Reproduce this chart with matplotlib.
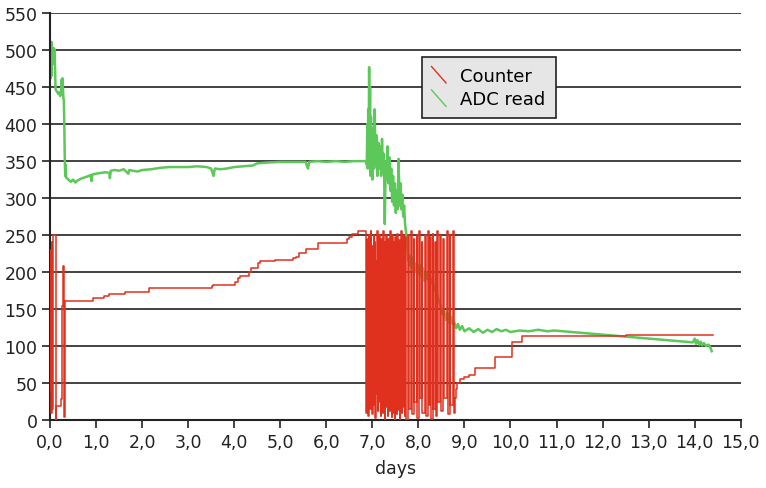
# -*- coding: utf-8 -*-
import matplotlib
matplotlib.use("Agg")
import matplotlib.pyplot as plt
from matplotlib.lines import Line2D
from matplotlib.legend_handler import HandlerBase

# Counter (change points, drawn as steps)
counter_days = [0.000, 0.008, 0.016, 0.024, 0.032, 0.040, 0.050, 0.058, 0.066, 0.120,
                0.128, 0.230, 0.250, 0.265, 0.280, 0.305, 0.330,
                0.94, 1.18, 1.29, 1.63, 2.16, 3.51, 3.55, 4.02, 4.09, 4.12, 4.33, 4.36,
                4.52, 4.56, 4.88, 5.28, 5.34, 5.41, 5.56, 5.82, 6.45, 6.50, 6.55, 6.69,
                6.870, 6.881, 6.892, 6.903, 6.914, 6.925, 6.936, 6.947, 6.958, 6.969,
                6.980, 6.991, 7.002, 7.013, 7.024, 7.035, 7.046, 7.057, 7.068, 7.079,
                7.090, 7.101, 7.112, 7.123, 7.134, 7.145, 7.156, 7.167, 7.178, 7.189,
                7.200, 7.211, 7.222, 7.233, 7.244, 7.255, 7.266, 7.277, 7.288, 7.299,
                7.310, 7.321, 7.332, 7.343, 7.354, 7.365, 7.376, 7.387, 7.398, 7.409,
                7.420, 7.431, 7.442, 7.453, 7.464, 7.475, 7.486, 7.497, 7.508, 7.519,
                7.530, 7.541, 7.552, 7.563, 7.574, 7.585, 7.596, 7.607, 7.618, 7.629,
                7.640, 7.651, 7.662, 7.673, 7.684, 7.695, 7.706, 7.717, 7.728, 7.740,
                7.780, 7.795, 7.850, 7.865, 7.900, 7.915, 7.960, 7.975, 8.020, 8.035,
                8.070, 8.085, 8.140, 8.155, 8.210, 8.225, 8.260, 8.275, 8.310, 8.325,
                8.360, 8.375, 8.410, 8.425, 8.470, 8.485, 8.540, 8.555, 8.620, 8.635,
                8.680, 8.695, 8.750, 8.765,
                8.790, 8.810, 8.840, 8.900, 9.000, 9.100, 9.220, 9.660, 10.030, 10.250,
                12.500, 14.390]
counter = [40, 230, 12, 210, 10, 240, 15, 200, 250, 0,
           19, 28, 76, 154, 208, 4, 161,
           165, 168, 171, 173, 178, 181, 183, 187, 192, 195, 200, 205,
           212, 215, 217, 219, 221, 226, 231, 239, 245, 248, 252, 255,
           10, 245, 30, 230, 5, 250, 60, 220, 15, 255,
           40, 235, 8, 190, 20, 250, 50, 240, 3, 215,
           35, 255, 12, 230, 70, 250, 25, 200, 5, 245,
           45, 225, 10, 255, 30, 180, 2, 240, 55, 250,
           18, 210, 6, 245, 40, 230, 12, 255, 28, 195,
           4, 250, 35, 240, 10, 225, 0, 248, 22, 236,
           8, 252, 48, 205, 14, 244, 2, 231, 33, 255,
           9, 238, 60, 250, 17, 220, 5, 247, 26, 0,
           250, 15, 255, 8, 245, 25, 250, 3, 255, 30,
           240, 10, 250, 5, 255, 20, 248, 2, 252, 15,
           240, 6, 255, 25, 250, 12, 245, 30, 255, 8,
           250, 20, 255, 10,
           30, 42, 50, 55, 58, 61, 71, 85, 105, 113,
           115, 115]

# ADC read
adc_days = [0.000, 0.008, 0.015, 0.022, 0.030, 0.037, 0.045, 0.052, 0.060, 0.070,
            0.080, 0.090, 0.100, 0.110, 0.120, 0.140, 0.160, 0.180, 0.200, 0.220,
            0.240, 0.250, 0.260, 0.270, 0.280, 0.290, 0.300, 0.310, 0.320, 0.330,
            0.340, 0.350, 0.400, 0.450, 0.500, 0.550, 0.600, 0.700, 0.800, 0.880,
            0.900, 0.920, 1.000, 1.100, 1.200, 1.290, 1.300, 1.320, 1.400, 1.500,
            1.600, 1.700, 1.720, 1.800, 1.900, 2.000, 2.200, 2.400, 2.600, 2.800,
            3.000, 3.200, 3.400, 3.500, 3.550, 3.580, 3.700, 3.840, 4.000, 4.200,
            4.400, 4.500, 4.700, 5.000, 5.300, 5.550, 5.600, 5.630, 5.800, 6.000,
            6.200, 6.400, 6.600, 6.860,
            6.88, 6.89, 6.90, 6.91, 6.92, 6.93, 6.94, 6.95, 6.96, 6.97,
            6.98, 6.99, 7.00, 7.02, 7.04, 7.05, 7.07, 7.09, 7.11, 7.13,
            7.15, 7.17, 7.19, 7.21, 7.23, 7.25, 7.27, 7.29, 7.31, 7.33,
            7.35, 7.37, 7.39, 7.41, 7.43, 7.45, 7.47, 7.49, 7.51, 7.53,
            7.55, 7.57, 7.59, 7.61, 7.63, 7.65, 7.67, 7.69, 7.71, 7.73,
            7.75, 7.77, 7.79, 7.81, 7.83, 7.85, 7.87, 7.90, 7.93, 7.96,
            8.00, 8.03, 8.06, 8.10, 8.13, 8.17, 8.20, 8.24, 8.28, 8.31,
            8.34, 8.38, 8.42, 8.46, 8.50, 8.53, 8.56, 8.60, 8.63, 8.66,
            8.70, 8.74, 8.78, 8.82, 8.86, 8.90, 8.95,
            9.00, 9.10, 9.20, 9.30, 9.40, 9.50, 9.60, 9.70, 9.80, 9.90,
            10.00, 10.20, 10.40, 10.60, 10.80, 10.95,
            13.96, 14.00, 14.03, 14.06, 14.10, 14.13, 14.16, 14.20, 14.25, 14.30,
            14.34, 14.37]
adc = [470, 495, 462, 505, 465, 511, 480, 500, 490, 503,
       498, 502, 500, 470, 447, 445, 443, 441, 443, 438,
       440, 460, 445, 462, 450, 436, 432, 400, 355, 330,
       345, 328, 325, 322, 325, 321, 324, 327, 329, 331,
       323, 332, 333, 334, 335, 334, 327, 337, 338, 337,
       339, 333, 338, 337, 336, 338, 339, 341, 342, 342,
       342, 343, 342, 340, 330, 340, 339, 340, 342, 343,
       344, 347, 348, 349, 349, 349, 340, 349, 350, 349,
       350, 349, 350, 350,
       345, 400, 340, 420, 360, 477, 380, 450, 330, 410,
       350, 395, 325, 390, 340, 420, 345, 385, 330, 375,
       340, 370, 330, 380, 335, 360, 265, 350, 325, 370,
       320, 355, 310, 340, 295, 330, 290, 320, 280, 310,
       285, 353, 290, 320, 285, 305, 275, 290, 265, 255,
       245, 225, 215, 222, 208, 220, 205, 215, 200, 212,
       198, 210, 195, 205, 188, 200, 190, 197, 185, 190,
       175, 180, 165, 160, 150, 143, 148, 135, 145, 132,
       140, 130, 132, 124, 130, 122, 127,
       120, 124, 119, 123, 118, 122, 119, 123, 120, 122,
       119, 121, 120, 122, 120, 121,
       105, 110, 103, 108, 102, 106, 101, 104, 100, 102,
       98, 93]

x_ticks = list(range(0, 16))
x_labels = ["%d,0" % v for v in x_ticks]
y_ticks = list(range(0, 551, 50))

red = "#e0301e"
green = "#5cc85a"


class DiagHandler(HandlerBase):
    # legend key drawn as a short diagonal stroke
    def create_artists(self, legend, orig_handle, xdescent, ydescent,
                       width, height, fontsize, trans):
        ln = Line2D([-xdescent, -xdescent + width],
                    [-ydescent + height * 1.15, -ydescent - height * 0.15],
                    color=orig_handle.get_color(), lw=1.0, transform=trans)
        return [ln]


plt.rcParams['font.family'] = ['DejaVu Sans']
fig = plt.figure(figsize=(7.66, 4.89), dpi=100)
ax = fig.add_axes([0.0653, 0.139, 0.9017, 0.832])

l1, = ax.plot(counter_days, counter, color=red, lw=1.1, drawstyle='steps-post',
              label="Counter", zorder=3)
l2, = ax.plot(adc_days, adc, color=green, lw=1.8, label="ADC read", zorder=2)

ax.set_xlim(0, 15)
ax.set_ylim(0, 550)
ax.set_xticks(x_ticks)
ax.set_xticklabels(x_labels)
ax.set_yticks(y_ticks)
ax.tick_params(axis='both', direction='out', length=6, width=1.2, labelsize=12.5,
               colors='#222222', pad=3)
ax.yaxis.grid(True, color='#222222', lw=1.2)
ax.set_axisbelow(True)
for s in ['top', 'right']:
    ax.spines[s].set_visible(False)
for s in ['left', 'bottom']:
    ax.spines[s].set_linewidth(1.5)
    ax.spines[s].set_color('#222222')
ax.set_xlabel("days", fontsize=12.5, color='#222222', labelpad=6)

leg = ax.legend(handles=[l1, l2], loc='upper left', bbox_to_anchor=(0.538, 0.892),
                borderaxespad=0, fancybox=False, framealpha=1, fontsize=13,
                handler_map={Line2D: DiagHandler()}, handlelength=0.8,
                handletextpad=0.8, labelspacing=0.3, borderpad=0.55)
leg.get_frame().set_facecolor('#e6e6e6')
leg.get_frame().set_edgecolor('#222222')
leg.get_frame().set_linewidth(1.2)

fig.savefig("out.png", dpi=100)
